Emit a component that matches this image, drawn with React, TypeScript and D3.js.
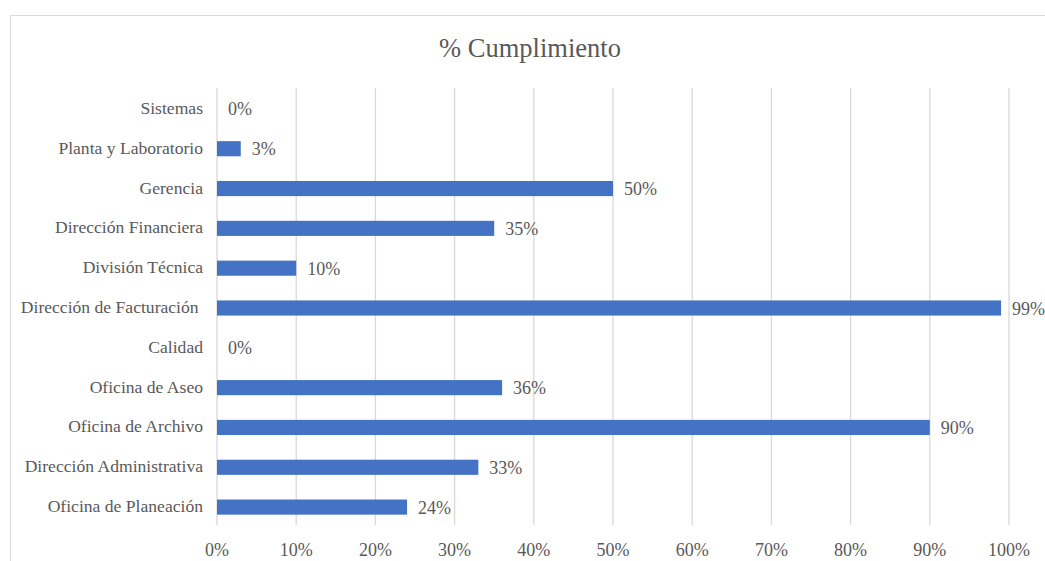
import React from 'react';
import * as d3 from 'd3';

const categories = [
  'Sistemas',
  'Planta y Laboratorio',
  'Gerencia',
  'Dirección Financiera',
  'División Técnica',
  'Dirección de Facturación ',
  'Calidad',
  'Oficina de Aseo',
  'Oficina de Archivo',
  'Dirección Administrativa',
  'Oficina de Planeación',
];
const values = [0, 3, 50, 35, 10, 99, 0, 36, 90, 33, 24];
const ticks = [0, 10, 20, 30, 40, 50, 60, 70, 80, 90, 100];

const W = 1045;
const H = 561;
const FONT = "'Liberation Serif', 'DejaVu Serif', serif";
const GRAY = '#595959';

const App: React.FC = () => {
  const x = d3.scaleLinear().domain([0, 100]).range([217, 1009]);
  const y = d3.scaleBand<string>().domain(categories).range([89, 527]).paddingInner(0.62).paddingOuter(0.31);

  return (
    <svg
      width={W}
      height={H}
      style={{ position: 'absolute', left: 0, top: 0, background: '#fff' }}
      fontFamily={FONT}
    >
      <rect x={10.5} y={15.5} width={W + 20} height={H + 20} fill="#fff" stroke="#d9d9d9" />
      <text x={530} y={57} textAnchor="middle" fontSize={26.5} fill={GRAY}>
        % Cumplimiento
      </text>
      {ticks.map((t) => (
        <g key={t}>
          <line x1={x(t)} x2={x(t)} y1={88} y2={525} stroke="#d9d9d9" strokeWidth={1.3} />
          <text x={x(t)} y={556} textAnchor="middle" fontSize={18} fill={GRAY}>
            {t}%
          </text>
        </g>
      ))}
      {categories.map((c, i) => {
        const cy = (y(c) ?? 0) + y.bandwidth() / 2;
        return (
          <g key={c}>
            <text
              x={203}
              y={cy + 5}
              textAnchor="end"
              fontSize={17.6}
              fill={GRAY}
              style={{ whiteSpace: 'pre' }}
            >
              {c}
            </text>
            {values[i] > 0 && (
              <rect x={x(0)} y={y(c)} width={x(values[i]) - x(0)} height={y.bandwidth()} fill="#4472C4" />
            )}
            <text x={x(values[i]) + 11} y={cy + 6.5} fontSize={18} fill={GRAY}>
              {values[i]}%
            </text>
          </g>
        );
      })}
    </svg>
  );
};

export default App;
